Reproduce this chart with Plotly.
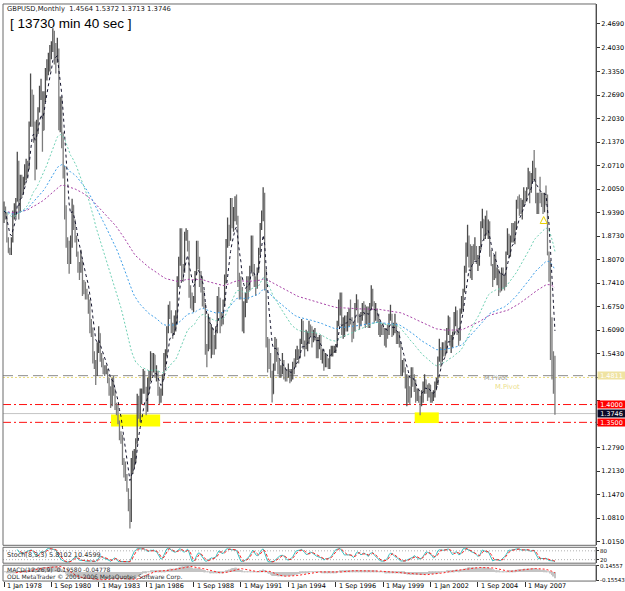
import numpy as np
import pandas as pd
import plotly.graph_objects as go

# ---------------- data (GBPUSD monthly, Jan 1978 .. Jan 2009) ----------------
SYMBOL = "GBPUSD,Monthly"
START = "1978-01-01"
FIRST_OPEN = 1.9185

CLOSE = [
    1.9430, 1.9330, 1.8620, 1.8260, 1.8260, 1.8590, 1.9370, 1.9410, 1.9700, 2.0830, 1.9450, 2.0340,  # 1978
    1.9950, 2.0250, 2.0620, 2.0730, 2.0650, 2.1860, 2.2580, 2.2400, 2.1910, 2.0900, 2.1790, 2.2250,  # 1979
    2.2650, 2.2750, 2.1700, 2.2650, 2.3350, 2.3550, 2.3710, 2.3850, 2.4000, 2.4450, 2.3850, 2.3850,  # 1980
    2.3950, 2.2200, 2.2400, 2.1500, 2.0600, 1.9350, 1.8500, 1.8350, 1.8100, 1.8550, 1.9600, 1.9100,  # 1981
    1.8700, 1.8250, 1.7850, 1.7800, 1.8000, 1.7350, 1.7350, 1.7100, 1.6980, 1.6900, 1.6200, 1.6150,  # 1982
    1.5300, 1.5200, 1.4850, 1.5550, 1.6000, 1.5300, 1.5200, 1.5000, 1.4950, 1.4980, 1.4700, 1.4500,  # 1983
    1.4000, 1.4650, 1.4400, 1.3950, 1.3900, 1.3500, 1.3100, 1.3100, 1.2400, 1.2100, 1.2000, 1.1600,  # 1984
    1.1300, 1.0900, 1.2400, 1.2400, 1.2500, 1.3000, 1.4200, 1.3900, 1.4100, 1.4350, 1.4900, 1.4450,  # 1985
    1.4050, 1.4650, 1.4750, 1.5300, 1.5000, 1.5400, 1.4850, 1.4900, 1.4400, 1.4200, 1.4300, 1.4800,  # 1986
    1.5300, 1.5400, 1.6150, 1.6700, 1.6550, 1.6100, 1.6000, 1.6400, 1.6400, 1.7500, 1.8000, 1.8800,  # 1987
    1.7800, 1.7750, 1.8750, 1.8800, 1.8550, 1.7100, 1.7000, 1.6750, 1.6900, 1.7650, 1.8500, 1.8100,  # 1988
    1.7550, 1.7400, 1.6900, 1.6850, 1.5550, 1.5550, 1.6350, 1.5700, 1.6100, 1.5800, 1.5700, 1.6100,  # 1989
    1.6950, 1.6900, 1.6400, 1.6400, 1.6800, 1.7500, 1.8600, 1.8950, 1.8700, 1.9450, 1.9250, 1.9300,  # 1990
    1.9450, 1.9250, 1.7500, 1.7300, 1.7200, 1.6200, 1.6800, 1.6900, 1.7500, 1.7250, 1.7800, 1.8700,  # 1991
    1.7800, 1.7500, 1.7300, 1.7750, 1.8300, 1.9000, 1.9200, 1.9900, 1.7700, 1.5800, 1.5200, 1.5100,  # 1992
    1.4900, 1.4300, 1.5050, 1.5650, 1.5500, 1.4950, 1.4900, 1.5000, 1.5000, 1.4800, 1.4800, 1.4800,  # 1993
    1.4950, 1.4800, 1.4850, 1.5150, 1.5100, 1.5450, 1.5450, 1.5400, 1.5800, 1.6300, 1.5650, 1.5650,  # 1994
    1.5850, 1.5850, 1.6200, 1.6100, 1.5800, 1.5950, 1.5950, 1.5450, 1.5800, 1.5800, 1.5300, 1.5500,  # 1995
    1.5100, 1.5350, 1.5250, 1.5100, 1.5500, 1.5500, 1.5550, 1.5550, 1.5650, 1.6300, 1.6800, 1.7100,  # 1996
    1.6100, 1.6300, 1.6450, 1.6250, 1.6400, 1.6650, 1.6400, 1.6150, 1.6150, 1.6750, 1.6900, 1.6450,  # 1997
    1.6400, 1.6500, 1.6750, 1.6700, 1.6350, 1.6700, 1.6400, 1.6800, 1.7000, 1.6800, 1.6500, 1.6600,  # 1998
    1.6450, 1.6000, 1.6100, 1.6050, 1.6050, 1.5800, 1.6100, 1.6000, 1.6450, 1.6450, 1.5950, 1.6150,  # 1999
    1.6150, 1.5800, 1.5950, 1.5650, 1.4950, 1.5150, 1.4950, 1.4550, 1.4750, 1.4500, 1.4200, 1.4900,  # 2000
    1.4650, 1.4450, 1.4200, 1.4300, 1.4200, 1.4100, 1.4200, 1.4500, 1.4700, 1.4550, 1.4250, 1.4550,  # 2001
    1.4150, 1.4200, 1.4250, 1.4550, 1.4600, 1.5250, 1.5600, 1.5400, 1.5700, 1.5600, 1.5550, 1.6100,  # 2002
    1.6450, 1.5750, 1.5800, 1.5950, 1.6350, 1.6500, 1.6100, 1.5800, 1.6600, 1.6950, 1.7200, 1.7850,  # 2003
    1.8200, 1.8650, 1.8400, 1.7700, 1.8350, 1.8150, 1.8200, 1.8000, 1.8100, 1.8400, 1.9100, 1.9200,  # 2004
    1.8850, 1.9200, 1.8900, 1.9100, 1.8200, 1.7900, 1.7600, 1.8000, 1.7650, 1.7700, 1.7300, 1.7200,  # 2005
    1.7800, 1.7500, 1.7400, 1.8250, 1.8700, 1.8500, 1.8700, 1.9000, 1.8700, 1.9100, 1.9700, 1.9600,  # 2006
    1.9600, 1.9600, 1.9700, 2.0000, 1.9800, 2.0050, 2.0350, 2.0150, 2.0450, 2.0800, 2.0600, 1.9850,  # 2007
    1.9900, 1.9850, 1.9850, 1.9800, 1.9800, 1.9900, 1.9850, 1.8200, 1.7850, 1.6200, 1.5350, 1.4564,  # 2008
    1.3746,                                                                                            # 2009
]

HIGH = [
    1.9700, 1.9560, 1.9400, 1.8700, 1.8400, 1.8700, 1.9450, 1.9650, 1.9800, 2.1100, 2.0850, 2.0450,
    2.0450, 2.0400, 2.0750, 2.0900, 2.0850, 2.1950, 2.3300, 2.2850, 2.2700, 2.1950, 2.2000, 2.2350,
    2.2950, 2.3150, 2.2800, 2.2800, 2.3450, 2.3700, 2.3880, 2.4100, 2.4200, 2.4570, 2.4500, 2.4150,
    2.4300, 2.4000, 2.2650, 2.2650, 2.1650, 2.0700, 1.9600, 1.8700, 1.8600, 1.8750, 1.9780, 1.9550,
    1.9200, 1.8750, 1.8300, 1.8000, 1.8350, 1.8050, 1.7500, 1.7450, 1.7250, 1.7100, 1.6950, 1.6400,
    1.6150, 1.5500, 1.5250, 1.5750, 1.6200, 1.6000, 1.5450, 1.5300, 1.5100, 1.5100, 1.5000, 1.4750,
    1.4500, 1.4750, 1.4800, 1.4450, 1.4050, 1.4000, 1.3550, 1.3250, 1.3150, 1.2500, 1.2400, 1.2050,
    1.1650, 1.1350, 1.2500, 1.2700, 1.2750, 1.3050, 1.4300, 1.4250, 1.4450, 1.4450, 1.5000, 1.4950,
    1.4500, 1.4750, 1.4950, 1.5500, 1.5450, 1.5450, 1.5400, 1.5100, 1.4950, 1.4500, 1.4450, 1.4850,
    1.5450, 1.5550, 1.6200, 1.6800, 1.6900, 1.6650, 1.6300, 1.6500, 1.6650, 1.7600, 1.8150, 1.8950,
    1.8950, 1.7950, 1.8850, 1.8950, 1.8900, 1.8600, 1.7350, 1.7150, 1.7050, 1.7750, 1.8600, 1.8600,
    1.8150, 1.7750, 1.7600, 1.7200, 1.6850, 1.5700, 1.6550, 1.6450, 1.6250, 1.6150, 1.5950, 1.6200,
    1.7050, 1.7300, 1.7000, 1.6600, 1.6950, 1.7650, 1.8650, 1.9250, 1.9050, 1.9800, 1.9800, 1.9550,
    1.9850, 1.9900, 1.9300, 1.7700, 1.7600, 1.7300, 1.6900, 1.7150, 1.7600, 1.7600, 1.7900, 1.8750,
    1.8750, 1.7950, 1.7600, 1.7850, 1.8400, 1.9100, 1.9450, 2.0100, 1.9950, 1.7800, 1.5900, 1.5850,
    1.5450, 1.4950, 1.5150, 1.5900, 1.5850, 1.5600, 1.5250, 1.5100, 1.5450, 1.5250, 1.5050, 1.5000,
    1.5150, 1.5000, 1.5000, 1.5200, 1.5300, 1.5550, 1.5650, 1.5550, 1.5850, 1.6400, 1.6350, 1.5800,
    1.6100, 1.6050, 1.6350, 1.6250, 1.6200, 1.6100, 1.6150, 1.6000, 1.5900, 1.5950, 1.5950, 1.5550,
    1.5550, 1.5450, 1.5400, 1.5300, 1.5550, 1.5650, 1.5650, 1.5650, 1.5700, 1.6350, 1.6950, 1.7150,
    1.7150, 1.6450, 1.6500, 1.6500, 1.6600, 1.6700, 1.6950, 1.6450, 1.6300, 1.6850, 1.7100, 1.6950,
    1.6550, 1.6600, 1.6850, 1.6900, 1.6800, 1.6750, 1.6750, 1.6850, 1.7350, 1.7250, 1.6900, 1.6850,
    1.6700, 1.6550, 1.6350, 1.6250, 1.6300, 1.6150, 1.6150, 1.6250, 1.6550, 1.6800, 1.6550, 1.6300,
    1.6550, 1.6300, 1.6050, 1.6050, 1.5750, 1.5250, 1.5300, 1.5050, 1.4850, 1.4800, 1.4500, 1.5050,
    1.5050, 1.4850, 1.4700, 1.4450, 1.4450, 1.4250, 1.4400, 1.4650, 1.4850, 1.4700, 1.4550, 1.4600,
    1.4450, 1.4350, 1.4400, 1.4650, 1.4750, 1.5350, 1.5850, 1.5550, 1.5750, 1.5750, 1.5800, 1.6150,
    1.6500, 1.6450, 1.5950, 1.6050, 1.6600, 1.6750, 1.6650, 1.6150, 1.6700, 1.7050, 1.7250, 1.7900,
    1.8550, 1.9050, 1.8750, 1.8500, 1.8450, 1.8500, 1.8700, 1.8450, 1.8200, 1.8450, 1.9150, 1.9500,
    1.9150, 1.9300, 1.9450, 1.9200, 1.9150, 1.8350, 1.7950, 1.8200, 1.8300, 1.7850, 1.7800, 1.7700,
    1.7850, 1.7850, 1.7650, 1.8300, 1.8950, 1.8800, 1.8750, 1.9100, 1.9100, 1.9150, 1.9750, 1.9850,
    1.9900, 1.9800, 1.9750, 2.0100, 2.0000, 2.0100, 2.0650, 2.0550, 2.0500, 2.0850, 2.1150, 2.0650,
    1.9950, 1.9950, 2.0400, 1.9950, 1.9950, 1.9950, 2.0150, 1.9900, 1.8300, 1.8050, 1.6450, 1.5500,
    1.5372,
]

LOW = [
    1.9100, 1.9200, 1.8550, 1.8300, 1.8200, 1.8200, 1.8550, 1.9200, 1.9250, 1.9700, 1.9200, 1.9400,
    1.9800, 1.9900, 2.0150, 2.0300, 2.0350, 2.0600, 2.1800, 2.1800, 2.1350, 2.0300, 2.0600, 2.1600,
    2.2200, 2.2550, 2.1100, 2.1700, 2.2500, 2.3100, 2.3250, 2.3350, 2.3700, 2.3900, 2.3550, 2.3300,
    2.3600, 2.1700, 2.1650, 2.1200, 2.0350, 1.9200, 1.8400, 1.7950, 1.7675, 1.7950, 1.8400, 1.8900,
    1.8550, 1.8150, 1.7700, 1.7500, 1.7700, 1.7050, 1.7100, 1.6950, 1.6950, 1.6550, 1.6000, 1.5900,
    1.5150, 1.5000, 1.4550, 1.4800, 1.5450, 1.5200, 1.5050, 1.4850, 1.4800, 1.4850, 1.4600, 1.4250,
    1.3900, 1.3950, 1.4250, 1.3850, 1.3700, 1.3450, 1.3000, 1.2900, 1.2300, 1.1950, 1.1850, 1.1550,
    1.1000, 1.0520, 1.0700, 1.2050, 1.2200, 1.2350, 1.2900, 1.3600, 1.3500, 1.4000, 1.4300, 1.4300,
    1.3700, 1.3800, 1.4300, 1.4650, 1.4800, 1.4900, 1.4750, 1.4650, 1.4250, 1.4000, 1.4050, 1.4250,
    1.4700, 1.5050, 1.5350, 1.6000, 1.6400, 1.6000, 1.5850, 1.5950, 1.6050, 1.6250, 1.7300, 1.7900,
    1.7500, 1.7450, 1.7700, 1.8600, 1.8300, 1.7000, 1.6700, 1.6650, 1.6600, 1.6850, 1.7650, 1.7800,
    1.7300, 1.7150, 1.6750, 1.6700, 1.5400, 1.5050, 1.5500, 1.5550, 1.5300, 1.5400, 1.5400, 1.5550,
    1.6000, 1.6600, 1.6000, 1.6200, 1.6250, 1.6750, 1.7400, 1.8400, 1.8450, 1.8600, 1.8950, 1.8850,
    1.9150, 1.9050, 1.7300, 1.6950, 1.6950, 1.6050, 1.6000, 1.6450, 1.6850, 1.6950, 1.7200, 1.7750,
    1.7600, 1.7300, 1.7050, 1.7250, 1.7700, 1.8200, 1.8900, 1.9150, 1.7200, 1.5600, 1.4900, 1.5000,
    1.4750, 1.4060, 1.4300, 1.4950, 1.5200, 1.4850, 1.4750, 1.4750, 1.4850, 1.4700, 1.4650, 1.4650,
    1.4750, 1.4600, 1.4650, 1.4700, 1.4850, 1.5050, 1.5250, 1.5150, 1.5300, 1.5700, 1.5550, 1.5350,
    1.5550, 1.5500, 1.5700, 1.5900, 1.5600, 1.5750, 1.5800, 1.5300, 1.5300, 1.5550, 1.5250, 1.5150,
    1.4950, 1.5050, 1.5050, 1.5000, 1.5000, 1.5350, 1.5350, 1.5450, 1.5450, 1.5600, 1.6200, 1.6500,
    1.5950, 1.5850, 1.5900, 1.6050, 1.6050, 1.6200, 1.6250, 1.5750, 1.5850, 1.6050, 1.6650, 1.6300,
    1.6100, 1.6200, 1.6350, 1.6500, 1.6150, 1.6250, 1.6150, 1.6150, 1.6650, 1.6750, 1.6300, 1.6350,
    1.6300, 1.5950, 1.5900, 1.5950, 1.5950, 1.5650, 1.5600, 1.5850, 1.5950, 1.6350, 1.5900, 1.5950,
    1.6000, 1.5700, 1.5700, 1.5600, 1.4800, 1.4800, 1.4900, 1.4450, 1.3950, 1.4050, 1.4000, 1.4200,
    1.4500, 1.4350, 1.4050, 1.4100, 1.4050, 1.3700, 1.3950, 1.4050, 1.4300, 1.4300, 1.4100, 1.4200,
    1.4050, 1.4050, 1.4100, 1.4200, 1.4400, 1.4550, 1.5200, 1.5050, 1.5200, 1.5350, 1.5350, 1.5450,
    1.5950, 1.5650, 1.5450, 1.5600, 1.5950, 1.6200, 1.5950, 1.5650, 1.5800, 1.6550, 1.6650, 1.7150,
    1.7700, 1.8150, 1.7850, 1.7550, 1.7500, 1.7950, 1.8050, 1.7950, 1.7750, 1.7900, 1.8350, 1.8950,
    1.8600, 1.8650, 1.8750, 1.8650, 1.8150, 1.7900, 1.7300, 1.7500, 1.7550, 1.7350, 1.7050, 1.7150,
    1.7200, 1.7250, 1.7200, 1.7300, 1.8200, 1.8100, 1.8150, 1.8550, 1.8550, 1.8500, 1.8900, 1.9500,
    1.9300, 1.9350, 1.9200, 1.9550, 1.9650, 1.9700, 2.0050, 1.9650, 1.9950, 2.0250, 2.0300, 1.9650,
    1.9350, 1.9350, 1.9650, 1.9550, 1.9350, 1.9400, 1.9600, 1.8200, 1.7450, 1.5250, 1.4700, 1.4300,
    1.3713,
]

# right-axis price scale (labels hidden behind the price boxes are left blank)
PRICE_TICKS = [1.0150, 1.0810, 1.1470, 1.2130, 1.2790, 1.3450, 1.4110, 1.4770, 1.5430, 1.6090,
               1.6750, 1.7410, 1.8070, 1.8730, 1.9390, 2.0050, 2.0710, 2.1370, 2.2030, 2.2690,
               2.3350, 2.4030, 2.4690]
HIDDEN_TICKS = [1.3450, 1.4110, 1.4770]
DATE_TICKS = ["1978-01-01", "1980-09-01", "1983-05-01", "1986-01-01", "1988-09-01", "1991-05-01",
              "1994-01-01", "1996-09-01", "1999-05-01", "2002-01-01", "2004-09-01", "2007-05-01"]
DATE_LABELS = ["1 Jan 1978", "1 Sep 1980", "1 May 1983", "1 Jan 1986", "1 Sep 1988", "1 May 1991",
               "1 Jan 1994", "1 Sep 1996", "1 May 1999", "1 Jan 2002", "1 Sep 2004", "1 May 2007"]

PIVOT = 1.4811
PIVOT2 = 1.4760
RESIST = 1.4000
SUPPORT = 1.3500
BID = 1.3746
HEADER_VALUES = "1.4564 1.5372 1.3713 1.3746"
TIMER_TEXT = "[ 13730 min 40 sec ]"
STOCH_TEXT = "Stoch(8,3,3) 5.8102 10.4599"
MACD_TEXT = "MACD(12,26,9) -0.19580 -0.04778"
COPYRIGHT = "ODL MetaTrader \u00a9 2001-2006 MetaQuotes Software Corp."
MACD_LABELS = ["0.14557", "-0.15543"]

# ---------------- derived series ----------------
months = pd.date_range(START, periods=len(CLOSE), freq="MS")
c = np.array(CLOSE, dtype=float)
o = np.array([FIRST_OPEN] + CLOSE[:-1], dtype=float)
h = np.maximum.reduce([np.array(HIGH, dtype=float), o, c])
l = np.minimum.reduce([np.array(LOW, dtype=float), o, c])


def ema(x, n):
    a = 2.0 / (n + 1)
    out = np.empty_like(x)
    out[0] = x[0]
    for i in range(1, len(x)):
        out[i] = a * x[i] + (1 - a) * out[i - 1]
    return out


def stoch(h, l, c, k=8, slow=3, d=3):
    n = len(c)
    num = np.full(n, np.nan)
    den = np.full(n, np.nan)
    for i in range(k - 1, n):
        ll = l[i - k + 1:i + 1].min()
        hh = h[i - k + 1:i + 1].max()
        num[i] = c[i] - ll
        den[i] = hh - ll
    K = np.full(n, np.nan)
    for i in range(k - 1 + slow - 1, n):
        K[i] = 100 * num[i - slow + 1:i + 1].sum() / den[i - slow + 1:i + 1].sum()
    D = pd.Series(K).rolling(d).mean().values
    return K, D


ema_fast = ema(c, 7)
ema50 = ema(c, 50)
ema100 = ema(c, 100)
ema200 = ema(c, 200)
stK, stD = stoch(h, l, c)
macd = ema(c, 12) - ema(c, 26)
macd_sig = pd.Series(macd).rolling(9).mean().values

# ---------------- geometry helpers ----------------
W, H = 625, 591


def px(v):
    return v / W


def py(v):
    return 1 - v / H


PX_PER_MONTH = 1.481
px_per_day = PX_PER_MONTH * 12 / 365.25
x_start = pd.Timestamp(START) - pd.Timedelta(days=1.0 / px_per_day)
x_end = x_start + pd.Timedelta(days=(596 - 3) / px_per_day)
XDOM = [px(3), px(596)]

FONT = "DejaVu Sans"

fig = go.Figure()

# price bars
fig.add_trace(go.Ohlc(
    x=months, open=o, high=h, low=l, close=c,
    increasing=dict(line=dict(color="#4c4c4c", width=1.3)),
    decreasing=dict(line=dict(color="#7c7c7c", width=1.3)),
    tickwidth=0.45, xaxis="x", yaxis="y", hoverinfo="skip", showlegend=False))

# moving averages
for y, col, dash in [(ema200, "#a640a6", "2px,2px"),
                     (ema100, "#3f9fe8", "2px,2px"),
                     (ema50, "#6fd0b4", "2px,2px"),
                     (ema_fast, "#15152e", "3px,3px")]:
    fig.add_trace(go.Scatter(x=months, y=y, mode="lines",
                             line=dict(color=col, width=1, dash=dash),
                             xaxis="x", yaxis="y", hoverinfo="skip", showlegend=False))

# small arrow object
fig.add_trace(go.Scatter(x=[pd.Timestamp("2008-05-15")], y=[1.928], mode="markers",
                         marker=dict(symbol="arrow-up-open", size=7, color="#e8d000", line=dict(width=1)),
                         xaxis="x", yaxis="y", hoverinfo="skip", showlegend=False))

# stochastic
fig.add_trace(go.Scatter(x=months, y=stK, mode="lines", line=dict(color="#3cc0c0", width=1),
                         xaxis="x2", yaxis="y2", hoverinfo="skip", showlegend=False))
fig.add_trace(go.Scatter(x=months, y=stD, mode="lines", line=dict(color="#ff2020", width=1, dash="3px,2px"),
                         xaxis="x2", yaxis="y2", hoverinfo="skip", showlegend=False))

# MACD
fig.add_trace(go.Bar(x=months, y=macd, marker=dict(color="#c4c4c4", line=dict(width=0)),
                     xaxis="x3", yaxis="y3", hoverinfo="skip", showlegend=False))
fig.add_trace(go.Scatter(x=months, y=macd_sig, mode="lines", line=dict(color="#ff2020", width=1, dash="2px,2px"),
                         xaxis="x3", yaxis="y3", hoverinfo="skip", showlegend=False))

mvals = np.concatenate([macd, macd_sig[~np.isnan(macd_sig)]])
m_lo, m_hi = float(mvals.min()), float(mvals.max())
m_pad = 0.05 * (m_hi - m_lo)

axis_common = dict(showgrid=False, zeroline=False, fixedrange=True)
fig.update_layout(
    width=W, height=H, margin=dict(l=0, r=0, t=0, b=0),
    paper_bgcolor="white", plot_bgcolor="white", showlegend=False, bargap=0.2,
    font=dict(family=FONT, size=7, color="black"),
    xaxis=dict(domain=XDOM, range=[x_start, x_end], anchor="y", type="date",
               showticklabels=False, rangeslider=dict(visible=False), **axis_common),
    xaxis2=dict(domain=XDOM, matches="x", anchor="y2", type="date", showticklabels=False, **axis_common),
    xaxis3=dict(domain=XDOM, matches="x", anchor="y3", type="date", showticklabels=False,
                ticks="outside", ticklen=5, tickcolor="#303030", tickwidth=1,
                tickvals=DATE_TICKS, **axis_common),
    yaxis=dict(domain=[py(547), py(2)], range=[1.0047, 2.5249], anchor="x", side="right",
               tickvals=PRICE_TICKS,
               ticktext=["" if v in HIDDEN_TICKS else f"{v:.4f}" for v in PRICE_TICKS],
               ticks="outside", ticklen=3, tickcolor="#303030",
               tickfont=dict(family=FONT, size=6.5, color="black"),
               showline=True, linecolor="#303030", linewidth=1, **axis_common),
    yaxis2=dict(domain=[py(565), py(549)], range=[-4, 104], anchor="x2", side="right",
                tickvals=[80, 20], ticktext=["80", "20"], ticks="outside", ticklen=2,
                tickcolor="#303030", tickfont=dict(family=FONT, size=5.5, color="black"),
                showline=True, linecolor="#303030", **axis_common),
    yaxis3=dict(domain=[py(583), py(567)], range=[m_lo - m_pad, m_hi + m_pad], anchor="x3", side="right",
                tickvals=[m_hi, m_lo], ticktext=MACD_LABELS, ticks="outside", ticklen=2,
                tickcolor="#303030", tickfont=dict(family=FONT, size=5.5, color="black"),
                showline=True, linecolor="#303030", **axis_common),
)

shapes = []
# pane frames
for (t, b) in [(2, 547), (549, 565), (567, 583)]:
    shapes.append(dict(type="rect", xref="paper", yref="paper", x0=px(3), x1=px(596), y0=py(b), y1=py(t),
                       line=dict(color="#6a6a6a", width=1), fillcolor="rgba(0,0,0,0)", layer="above"))
# stochastic levels
for lvl in (20, 80):
    shapes.append(dict(type="line", xref="paper", yref="y2", x0=px(3), x1=px(596), y0=lvl, y1=lvl,
                       line=dict(color="#b0b0b0", width=1, dash="1px,2px"), layer="below"))
# yellow zones
shapes.append(dict(type="rect", xref="x", yref="y", x0="1984-01-10", x1="1986-10-15", y0=1.3385, y1=1.3720,
                   fillcolor="#ffff00", line=dict(width=0), layer="below"))
shapes.append(dict(type="rect", xref="x", yref="y", x0="2001-02-10", x1="2002-06-20", y0=1.3480, y1=1.3780,
                   fillcolor="#ffff00", line=dict(width=0), layer="below"))
# horizontal levels
levels = [(PIVOT, "#8c8c8c", "10px,5px"), (PIVOT2, "#eadb80", "2px,2px"),
          (RESIST, "#ff1010", "8px,3px,2px,3px"), (SUPPORT, "#ff1010", "8px,3px,2px,3px"),
          (BID, "#c4c4c4", "solid")]
for val, col, dash in levels:
    shapes.append(dict(type="line", xref="paper", yref="y", x0=px(3), x1=px(596), y0=val, y1=val,
                       line=dict(color=col, width=1, dash=dash), layer="below"))
fig.update_layout(shapes=shapes)

ann = []
# header texts
ann.append(dict(x=px(5), y=py(7.5), xref="paper", yref="paper", xanchor="left", yanchor="middle",
                text=f"{SYMBOL}  {HEADER_VALUES}", showarrow=False,
                font=dict(family=FONT, size=6.8, color="#202020")))
ann.append(dict(x=px(8), y=py(22), xref="paper", yref="paper", xanchor="left", yanchor="middle",
                text=TIMER_TEXT, showarrow=False,
                font=dict(family="Liberation Sans", size=13.5, color="black")))
# pivot labels
ann.append(dict(x=px(482), y=py(379), xref="paper", yref="paper", xanchor="left", yanchor="middle",
                text="M.Pivot", showarrow=False, font=dict(family=FONT, size=6.5, color="#9a9a9a")))
ann.append(dict(x=px(493), y=py(387.5), xref="paper", yref="paper", xanchor="left", yanchor="middle",
                text="M.Pivot", showarrow=False, font=dict(family=FONT, size=6.8, color="#ece08c")))
# right-hand price boxes
for val, bg, fg in [(PIVOT, "#efe3a2", "white"), (RESIST, "#ff0000", "white"),
                    (BID, "#0a0a28", "white"), (SUPPORT, "#ff0000", "white")]:
    ann.append(dict(x=px(597), y=val, xref="paper", yref="y", xanchor="left", yanchor="middle",
                    text=f"{val:.4f}", showarrow=False, bgcolor=bg, width=27, height=7, borderpad=0,
                    font=dict(family=FONT, size=6.5, color=fg)))
# sub-window captions
ann.append(dict(x=px(5), y=py(557), xref="paper", yref="paper", xanchor="left", yanchor="middle",
                text=STOCH_TEXT, showarrow=False, font=dict(family=FONT, size=6.5, color="#303030")))
ann.append(dict(x=px(5), y=py(571.5), xref="paper", yref="paper", xanchor="left", yanchor="middle",
                text=MACD_TEXT, showarrow=False, font=dict(family=FONT, size=6, color="#303030")))
ann.append(dict(x=px(5), y=py(578.5), xref="paper", yref="paper", xanchor="left", yanchor="middle",
                text=COPYRIGHT, showarrow=False, font=dict(family=FONT, size=6, color="#303030")))
# time axis labels
for d, t in zip(DATE_TICKS, DATE_LABELS):
    ann.append(dict(x=d, y=py(587.5), xref="x3", yref="paper", xanchor="left", yanchor="middle", xshift=1,
                    text=t, showarrow=False, font=dict(family=FONT, size=6.5, color="black")))
fig.update_layout(annotations=ann)

fig.write_html("out.html")
